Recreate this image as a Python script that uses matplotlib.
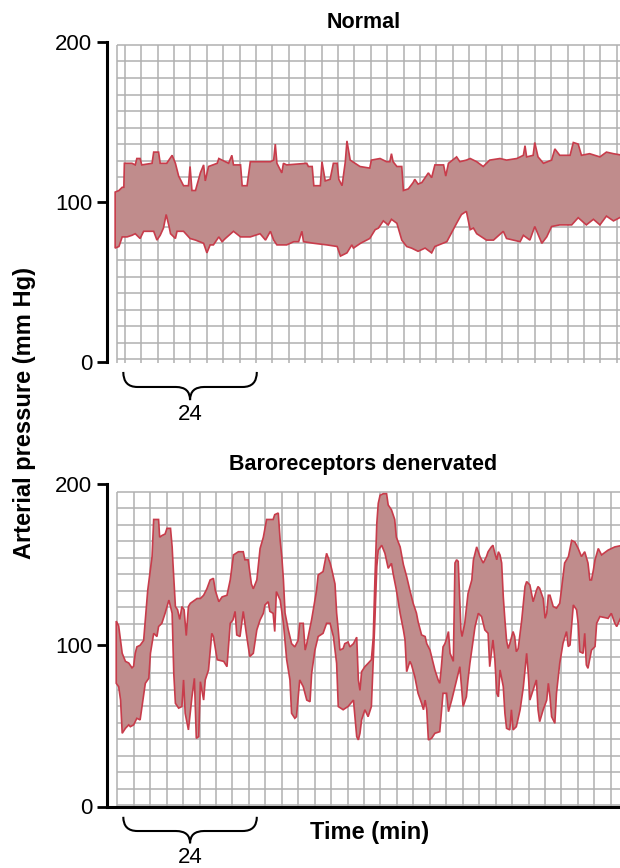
import numpy as np
import matplotlib
matplotlib.use('Agg')
import matplotlib.pyplot as plt
import matplotlib.transforms as mtransforms
from matplotlib.path import Path
from matplotlib.patches import PathPatch

plt.rcParams['font.family'] = ['Liberation Sans', 'DejaVu Sans']

# arterial pressure envelopes, (time in min, pressure in mm Hg)
normal_upper = [
    (1.5, 106), (2.2, 107), (2.8, 109), (3.1, 109), (3.2, 124), (4.6, 124), (5.2, 123), (5.5, 127),
    (6.1, 127), (6.4, 123), (8.3, 124), (8.6, 131), (9.5, 131), (9.8, 124), (11.0, 124), (12.0, 129),
    (12.6, 124), (13.2, 116), (14.1, 110), (15.0, 110), (15.3, 122), (15.65, 107), (16.3, 107),
    (17.2, 118), (17.8, 123), (18.1, 113), (18.7, 122), (20.3, 124), (20.6, 127), (22.4, 124),
    (23.0, 129), (23.3, 123), (24.6, 123), (24.9, 110), (25.8, 110), (26.4, 125), (30.1, 125),
    (30.7, 126), (31.0, 136), (31.3, 124), (32.2, 118), (32.5, 124), (33.1, 123), (36.8, 124),
    (37.1, 122), (37.8, 122), (38.1, 110), (39.3, 110), (39.6, 125), (40.2, 113), (41.1, 114),
    (41.7, 124), (42.4, 124), (42.7, 114), (43.3, 110), (43.9, 125), (44.2, 138), (44.8, 126),
    (46.6, 122), (48.4, 121), (48.7, 126), (50.3, 127), (51.5, 125), (52.1, 125), (52.4, 130),
    (52.7, 125), (53.4, 122), (54.3, 122), (54.6, 107), (55.5, 108), (56.4, 112), (56.7, 114),
    (57.3, 111), (58.0, 112), (58.6, 115), (59.2, 118), (59.8, 115), (60.4, 123), (62.0, 123),
    (62.4, 116), (62.9, 124), (64.4, 128), (65.0, 125), (66.2, 126), (66.9, 127), (68.1, 125),
    (69.3, 122), (70.5, 126), (72.4, 127), (73.6, 126), (75.5, 127), (76.7, 129), (77.0, 135),
    (77.3, 128), (78.5, 129), (78.8, 137), (79.4, 128), (80.4, 124), (81.9, 126), (82.5, 133),
    (83.4, 129), (85.3, 129), (85.9, 137), (86.8, 136), (87.4, 129), (88.9, 130), (90.8, 128),
    (92.0, 131), (93.3, 130), (95.0, 129),
]
normal_lower = [
    (1.5, 71), (2.2, 72), (2.8, 78), (3.7, 78), (4.6, 79), (5.2, 80), (6.1, 77), (6.75, 81.5),
    (8.6, 81.5), (9.2, 76), (9.8, 79), (10.4, 83.5), (10.9, 92), (11.4, 85), (11.7, 80), (12.6, 77),
    (12.9, 81.5), (14.1, 81.5), (15.3, 77), (16.3, 76), (17.8, 74), (18.4, 68), (19.0, 73),
    (19.6, 73), (20.6, 78), (21.2, 75), (21.8, 77), (23.3, 81.5), (24.6, 78), (26.4, 78), (28.2, 80),
    (29.2, 76), (30.1, 81.5), (30.7, 76), (31.3, 73), (33.1, 73), (34.4, 75), (35.3, 75),
    (35.9, 81.5), (36.2, 75), (38.1, 74), (40.5, 73), (42.4, 72), (43.0, 66), (44.2, 68), (45.1, 73),
    (45.4, 71), (46.7, 74), (48.4, 77), (49.4, 82.5), (50.0, 83.5), (50.9, 88), (51.8, 85.5),
    (52.4, 89), (53.4, 86.5), (54.3, 76), (55.2, 72), (56.1, 71), (57.3, 69), (58.6, 71), (59.8, 68),
    (60.4, 72), (62.6, 75), (64.4, 86.5), (65.3, 92), (66.2, 94), (66.9, 82.5), (67.5, 83.5),
    (68.1, 80), (69.9, 76), (71.2, 76), (73.0, 81.5), (73.6, 77), (76.1, 75), (76.7, 79), (77.9, 76),
    (78.8, 84.5), (80.1, 74), (81.0, 78), (81.9, 84.5), (83.4, 85.5), (85.6, 85.5), (86.8, 90),
    (88.3, 85.5), (89.6, 89), (90.8, 85.5), (92.0, 91), (93.3, 88), (95.0, 91),
]
denervated_upper = [
    (1.7, 115), (2.15, 112), (2.8, 95), (3.4, 90), (4.0, 89), (4.6, 86), (4.9, 87), (5.2, 95),
    (5.5, 99), (6.1, 100), (6.75, 103), (7.5, 134), (8.3, 155), (8.6, 178), (9.5, 178), (9.7, 167),
    (10.1, 168), (10.7, 169), (11.05, 172.5), (11.7, 172.5), (12.0, 161), (12.15, 151), (12.6, 124),
    (13.0, 122), (13.4, 116), (13.8, 124), (14.2, 122), (14.6, 106), (15.0, 124), (15.35, 126),
    (16.6, 129), (17.2, 129), (17.8, 131), (18.4, 135), (19.0, 140.5), (19.6, 141.5), (19.95, 134),
    (20.6, 127), (21.2, 130), (22.1, 131), (22.7, 140.5), (23.3, 156), (24.2, 158), (25.1, 158),
    (25.4, 153), (26.0, 153), (26.6, 138), (26.95, 135), (27.6, 140.5), (28.2, 160), (28.8, 167),
    (29.4, 178), (30.6, 178), (30.9, 181), (31.55, 182), (31.9, 165), (32.2, 155), (32.5, 140.5),
    (32.8, 120), (33.4, 109.5), (34.0, 101), (34.6, 99), (35.2, 103), (35.5, 113.6), (36.15, 113.6),
    (36.5, 97), (36.8, 101), (37.7, 116), (38.6, 134), (38.9, 143.6), (39.8, 145.7), (40.45, 157),
    (41.1, 151), (41.4, 147), (42.0, 138), (42.3, 120), (42.6, 109.5), (42.9, 97), (43.5, 98),
    (43.8, 101), (44.4, 102), (44.75, 99), (45.4, 101), (46.0, 105), (46.3, 78.5), (46.6, 72),
    (46.9, 83.6), (47.5, 86.7), (48.1, 88.8), (48.7, 91), (49.05, 105), (49.35, 140.5),
    (49.7, 175.6), (49.97, 188), (50.3, 193), (50.9, 194), (51.5, 194), (51.8, 187), (52.4, 184),
    (53.0, 178), (53.3, 167), (54.0, 161), (54.6, 150), (55.2, 142.6), (55.8, 134), (56.4, 126),
    (57.0, 120), (57.3, 114.7), (57.95, 106.4), (58.6, 105.4), (58.9, 101), (59.5, 97), (60.4, 84.7),
    (61.0, 78.5), (61.3, 76.4), (61.6, 86.7), (61.9, 99), (62.25, 101), (62.55, 104), (62.9, 108.5),
    (63.2, 95), (63.8, 90), (64.1, 151), (64.4, 153), (64.7, 152), (65.2, 109.5), (65.4, 105.4),
    (65.9, 113.6), (66.5, 132), (67.2, 140.5), (67.5, 153), (68.1, 161), (68.7, 155), (69.3, 151),
    (69.9, 155), (70.2, 158), (70.8, 161), (71.1, 162), (71.45, 157), (71.8, 153), (72.1, 158),
    (72.4, 156), (72.7, 151), (73.0, 130), (73.3, 115.7), (73.6, 103), (73.9, 98), (74.2, 101),
    (74.8, 108.5), (75.1, 105.4), (75.4, 96), (75.75, 98), (76.4, 115.7), (77.0, 136.4),
    (77.3, 139.5), (77.9, 137.4), (78.5, 127), (79.1, 134), (79.4, 136.4), (79.7, 135.3),
    (80.35, 129), (80.7, 116.7), (81.0, 119.8), (81.3, 131), (81.6, 131), (82.2, 124), (82.8, 123),
    (83.4, 126), (83.7, 134), (84.3, 151), (85.0, 155), (85.6, 165), (86.2, 164), (86.8, 160),
    (87.4, 155), (88.0, 158), (88.6, 151), (88.95, 140.5), (89.25, 140.5), (89.6, 146.7),
    (89.9, 153), (90.5, 160), (91.1, 156), (92.3, 159), (93.55, 161), (95.0, 162),
]
denervated_lower = [
    (1.7, 76.4), (2.15, 74.3), (2.5, 66), (2.8, 45.4), (3.4, 48.5), (4.0, 50.6), (4.3, 49.5),
    (4.9, 50.6), (5.5, 54.7), (6.1, 53.7), (6.45, 62), (7.06, 76.4), (7.7, 79.5), (8.0, 95),
    (8.6, 107.4), (9.2, 105.4), (9.5, 111.6), (10.1, 113.6), (10.7, 119.8), (11.4, 128), (11.7, 124),
    (12.0, 119.8), (12.3, 82.6), (12.6, 64), (13.2, 61), (13.8, 62), (14.1, 78.5), (14.4, 57.8),
    (15.0, 47.5), (15.65, 68), (16.1, 79.5), (16.45, 42.3), (16.9, 43.3), (17.2, 77.4), (17.8, 66),
    (18.1, 78.5), (18.7, 84.7), (19.3, 107.4), (19.6, 105.4), (20.3, 91), (21.5, 90), (22.1, 86.7),
    (22.7, 113.6), (23.2, 115.7), (23.6, 121), (23.9, 106.4), (24.5, 105.4), (25.1, 121),
    (25.7, 106.4), (26.3, 93), (26.95, 95), (27.6, 109.5), (28.2, 115.7), (28.8, 119.8), (29.1, 125),
    (29.7, 127), (30.0, 121), (30.6, 119.8), (30.9, 108.5), (31.2, 133.3), (31.9, 128), (32.5, 113.6),
    (33.1, 91), (33.7, 78.5), (34.0, 57.8), (34.6, 54.7), (34.9, 55.7), (35.5, 78.5), (36.15, 74.3),
    (36.8, 66), (37.4, 65), (37.7, 82.6), (38.3, 97), (38.9, 105.4), (39.8, 107.4), (40.45, 113.6),
    (41.1, 113.6), (41.7, 105.4), (42.3, 88.8), (42.6, 62), (43.5, 60), (44.4, 62), (45.4, 66),
    (46.0, 43.3), (46.3, 41.3), (46.6, 45.4), (46.9, 53.7), (47.5, 60), (48.1, 55.7), (48.7, 62),
    (49.05, 91), (49.35, 115.7), (49.7, 148.8), (49.97, 159), (50.6, 162), (51.2, 157),
    (51.8, 147.7), (52.4, 150.8), (52.7, 144.6), (53.3, 134.3), (54.0, 119.8), (54.6, 109.5),
    (54.9, 103.3), (55.2, 83.6), (55.8, 90), (56.1, 87.8), (56.7, 80.5), (57.3, 70.2), (57.95, 64),
    (58.3, 60), (58.6, 66), (58.9, 60), (59.2, 41.3), (59.8, 42.3), (60.4, 45.4), (61.3, 46.4),
    (61.9, 70.2), (62.55, 70.2), (62.9, 58.8), (63.5, 66), (64.1, 74.3), (65.0, 86.7), (65.3, 74.3),
    (65.6, 62), (66.2, 68), (66.5, 78.5), (66.85, 88.8), (67.8, 111.6), (68.4, 119.8), (69.0, 117.8),
    (69.6, 109.5), (70.2, 107.4), (70.5, 86.7), (71.1, 103.3), (71.45, 91), (71.8, 70.2), (72.1, 68),
    (72.4, 84.7), (73.0, 74.3), (73.3, 57.8), (73.6, 48.5), (74.2, 47.5), (74.5, 60), (74.8, 47.5),
    (75.4, 49.5), (76.1, 60), (76.7, 74.3), (77.3, 95), (77.6, 82.6), (77.9, 66), (78.5, 72.3),
    (79.1, 78.5), (79.4, 60), (79.7, 52.6), (80.35, 60), (81.0, 66), (81.3, 76.4), (81.6, 68),
    (81.9, 55.7), (82.5, 51.6), (82.8, 70.2), (83.4, 88.8), (84.0, 101.2), (84.65, 108.5),
    (84.96, 99.2), (85.3, 100.2), (85.9, 125), (86.5, 122), (86.8, 113.6), (87.1, 96), (87.7, 95),
    (88.0, 107.4), (88.3, 87.8), (88.6, 85.7), (89.25, 97), (89.9, 99.2), (90.2, 113.6),
    (90.8, 117.8), (92.3, 116.7), (92.9, 119.8), (93.55, 113.6), (93.9, 111.6), (95.0, 119.8),
]

titles = ['Normal', 'Baroreceptors denervated']
yticks = [0, 100, 200]
bracket = (3.0, 27.6)   # minutes spanned by the "24" brace
bracket_label = '24'

fill_color = '#c08c8c'
edge_color = '#c83c4b'
grid_color = '#b0b0b0'


def brace(ax, x0, x1, y_end, y_mid, y_tip, r=2.6):
    xm = (x0 + x1) / 2
    verts = [(x0, y_end), (x0, y_mid), (x0 + r, y_mid), (xm - r, y_mid),
             (xm, y_mid), (xm, y_tip), (xm, y_mid), (xm + r, y_mid),
             (x1 - r, y_mid), (x1, y_mid), (x1, y_end)]
    codes = [Path.MOVETO, Path.CURVE3, Path.CURVE3, Path.LINETO,
             Path.CURVE3, Path.CURVE3, Path.CURVE3, Path.CURVE3,
             Path.LINETO, Path.CURVE3, Path.CURVE3]
    trans = mtransforms.blended_transform_factory(ax.transData, ax.transAxes)
    ax.add_patch(PathPatch(Path(verts, codes), fill=False, lw=1.5, color='black',
                           transform=trans, clip_on=False))
    ax.text(xm, y_tip - 0.045, bracket_label, transform=trans, ha='center', va='center',
            fontsize=16)


fig = plt.figure(figsize=(6.2, 8.68), dpi=100)
ax1 = fig.add_axes([107/620, 1 - 361.7/868, 513/620, 320/868])
ax2 = fig.add_axes([107/620, 1 - 806.5/868, 513/620, 322.5/868])

panels = [
    (ax1, normal_upper, normal_lower, np.r_[1.8, np.arange(3.3, 94.5, 3.02)],
     np.linspace(1.5, 198, 20), -1),
    (ax2, denervated_upper, denervated_lower, np.arange(1.9, 94.5, 3.03),
     np.linspace(0.8, 195.2, 20), 0),
]

for i, (ax, upper, lower, vgrid, hgrid, vbottom) in enumerate(panels):
    ut, up = np.array(upper).T
    lt, lp = np.array(lower).T

    ax.vlines(vgrid, vbottom, hgrid[-1], color=grid_color, lw=1.1, zorder=1, clip_on=False)
    ax.hlines(hgrid, vgrid[0], 95, color=grid_color, lw=1.1, zorder=1)

    ax.fill(np.r_[ut, lt[::-1]], np.r_[up, lp[::-1]], facecolor=fill_color,
            edgecolor=edge_color, lw=1.2, zorder=2)

    ax.set_xlim(0, 94.5)
    ax.set_ylim(0, 200)
    ax.set_yticks(yticks)
    ax.set_xticks([])
    ax.tick_params(axis='y', length=7.5, width=2, labelsize=16, pad=3)
    for s in ['top', 'right']:
        ax.spines[s].set_visible(False)
    ax.spines['left'].set_linewidth(2.2)
    ax.spines['bottom'].set_linewidth(2.2)
    ax.set_facecolor('none')
    ax.set_title(titles[i], fontweight='bold', fontsize=15.5, pad=10)

ax1.spines['bottom'].set_visible(False)

brace(ax1, bracket[0], bracket[1], -0.032, -0.079, -0.12)
brace(ax2, bracket[0], bracket[1], -0.032, -0.076, -0.114)

fig.text(25/620, 1 - 413/868, 'Arterial pressure (mm Hg)', rotation=90, ha='center',
         va='center', fontweight='bold', fontsize=17)
fig.text(370/620, 1 - 833/868, 'Time (min)', ha='center', va='center',
         fontweight='bold', fontsize=17)

fig.savefig('out.png', dpi=100)
